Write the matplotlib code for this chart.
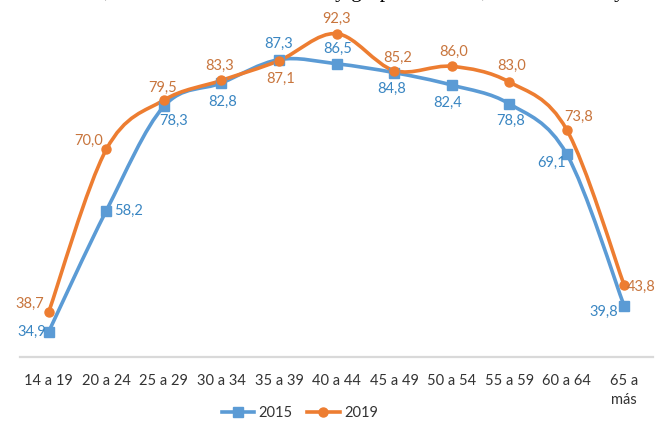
import numpy as np
import matplotlib
matplotlib.use("Agg")
import matplotlib.pyplot as plt
from matplotlib.path import Path
from matplotlib.patches import PathPatch
from matplotlib.lines import Line2D

# data
groups = ["14 a 19", "20 a 24", "25 a 29", "30 a 34", "35 a 39", "40 a 44",
          "45 a 49", "50 a 54", "55 a 59", "60 a 64", "65 a\nmás"]
v2015 = [34.9, 58.2, 78.3, 82.8, 87.3, 86.5, 84.8, 82.4, 78.8, 69.1, 39.8]
v2019 = [38.7, 70.0, 79.5, 83.3, 87.1, 92.3, 85.2, 86.0, 83.0, 73.8, 43.8]
series_names = ["2015", "2019"]

# label offsets in pixels (dx, dy, ha)
off2015 = [(-3, 0, "right"), (8, 0, "left"), (10, -15, "center"), (1, -19, "center"),
           (0, 16, "center"), (1, 15, "center"), (-2, -16, "center"), (-4, -18, "center"),
           (1, -17, "center"), (-1, -9, "right"), (-6, -6, "right")]
off2019 = [(-5, 8, "right"), (-3, 9, "right"), (-1, 12, "center"), (-2, 14, "center"),
           (2, -18, "center"), (0, 15, "center"), (4, 13, "center"), (2, 14, "center"),
           (2, 16, "center"), (-2, 13, "left"), (3, -2, "left")]

BLUE = "#5b9bd5"
ORANGE = "#ed7d31"
BLUE_TXT = "#3a86c2"
ORANGE_TXT = "#c8753d"

plt.rcParams["font.family"] = ["Lato", "DejaVu Sans"]


def smooth_path(xs, ys, t=1 / 6):
    # excel-like smoothed line through the points
    pts = np.column_stack([xs, ys])
    n = len(pts)
    verts = [pts[0]]
    codes = [Path.MOVETO]
    for i in range(n - 1):
        p0 = pts[max(i - 1, 0)]
        p1 = pts[i]
        p2 = pts[i + 1]
        p3 = pts[min(i + 2, n - 1)]
        verts += [p1 + (p2 - p0) * t, p2 - (p3 - p1) * t, p2]
        codes += [Path.CURVE4] * 3
    return Path(verts, codes)


fig = plt.figure(figsize=(6.57, 4.26), dpi=100)
ax = fig.add_axes([20 / 657, 69 / 426, 633 / 657, 357 / 426])
x = np.arange(len(groups))

for vals, col, tcol, mk, offs in [(v2015, BLUE, BLUE_TXT, "s", off2015),
                                  (v2019, ORANGE, ORANGE_TXT, "o", off2019)]:
    ax.add_patch(PathPatch(smooth_path(x, vals), facecolor="none", edgecolor=col,
                           lw=2.6, zorder=2))
    ax.plot(x, vals, ls="none", marker=mk, color=col, ms=6.5, zorder=3)
    for xi, v, (dx, dy, ha) in zip(x, vals, offs):
        ax.annotate(f"{v:.1f}".replace(".", ","), (xi, v), xytext=(dx, dy),
                    textcoords="offset pixels", ha=ha, va="center",
                    fontsize=10.5, color=tcol, annotation_clip=False, zorder=4)

ax.set_xlim(-0.5, len(groups) - 0.5)
ax.set_ylim(30, 30 + 357 / 5.19)
ax.set_xticks(x)
ax.set_xticklabels(groups, fontsize=10.5, color="#333333", linespacing=1.5)
ax.tick_params(axis="x", length=0, pad=12)
ax.set_yticks([])
for s in ["top", "left", "right"]:
    ax.spines[s].set_visible(False)
ax.spines["bottom"].set_color("#d9d9d9")
ax.spines["bottom"].set_linewidth(1.6)
ax.patch.set_alpha(0)

handles = [Line2D([], [], color=BLUE, lw=2.6, marker="s", ms=6.5),
           Line2D([], [], color=ORANGE, lw=2.6, marker="o", ms=6.5)]
fig.legend(handles, series_names, loc="center", bbox_to_anchor=(300 / 657, 1 - 413 / 426),
           ncol=2, frameon=False, fontsize=10.5, handlelength=2.2,
           columnspacing=1.0, handletextpad=0.3, labelcolor="#333333")

# clipped line of the surrounding document text, only its lower edge shows
fig.text(5 / 657, 1 + 3 / 426,
         "área urbana, tasa de asistencia escolar y grupos de edad, total nacional y área",
         family="Liberation Serif", fontsize=15.5, va="baseline", ha="left", color="black")

fig.savefig("out.png", dpi=100)
